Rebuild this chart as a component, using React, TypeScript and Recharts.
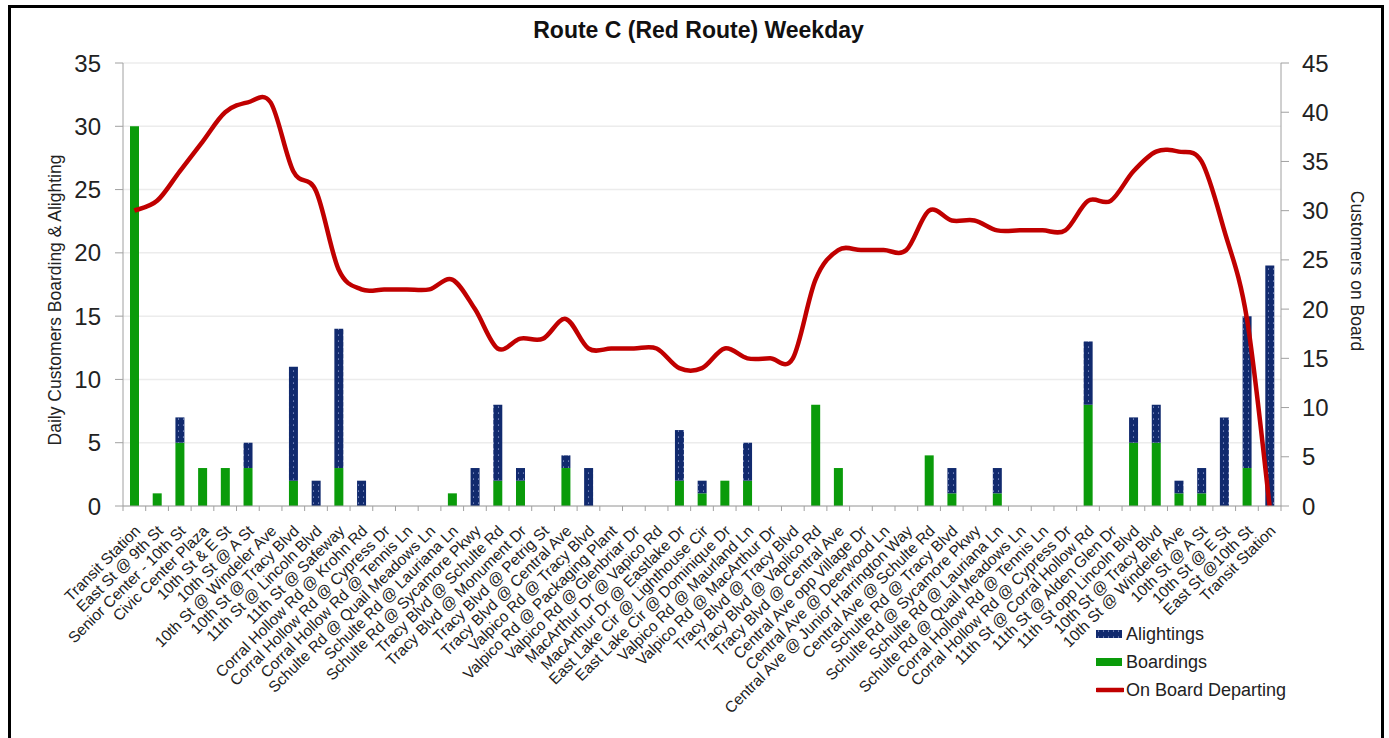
import { ComposedChart, Bar, Line, XAxis, YAxis, CartesianGrid, Legend } from "recharts";

const stops = [
  "Transit Station",
  "East St @ 9th St",
  "Senior Center - 10th St",
  "Civic Center Plaza",
  "10th St & E St",
  "10th St @ A St",
  "10th St @ Windeler Ave",
  "10th St @ Tracy Blvd",
  "11th St @ Lincoln Blvd",
  "11th St @ Safeway",
  "Corral Hollow Rd @ Krohn Rd",
  "Corral Hollow Rd @ Cypress Dr",
  "Corral Hollow Rd @ Tennis Ln",
  "Schulte Rd @ Quail Meadows Ln",
  "Schulte Rd @ Lauriana Ln",
  "Schulte Rd @ Sycamore Pkwy",
  "Tracy Blvd @ Schulte Rd",
  "Tracy Blvd @ Monument Dr",
  "Tracy Blvd @ Petrig St",
  "Tracy Blvd @ Central Ave",
  "Valpico Rd @ Tracy Blvd",
  "Valpico Rd @ Packaging Plant",
  "Valpico Rd @ Glenbriar Dr",
  "MacArthur Dr @ Vapico Rd",
  "MacArthur Dr @ Eastlake Dr",
  "East Lake Cir @ Lighthouse Cir",
  "East Lake Cir @ Dominique Dr",
  "Valpico Rd @ Maurland Ln",
  "Valpico Rd @ MacArthur Dr",
  "Tracy Blvd @ Tracy Blvd",
  "Tracy Blvd @ Vaplico Rd",
  "Tracy Blvd @ Central Ave",
  "Central Ave opp Village Dr",
  "Central Ave @ Deerwood Ln",
  "Central Ave @ Junior Harrington Way",
  "Central Ave @ Schulte Rd",
  "Schulte Rd @ Tracy Blvd",
  "Schulte Rd @ Sycamore Pkwy",
  "Schulte Rd @ Lauriana Ln",
  "Schulte Rd @ Quail Meadows Ln",
  "Corral Hollow Rd @ Tennis Ln",
  "Corral Hollow Rd @ Cypress Dr",
  "11th St @ Corral Hollow Rd",
  "11th St @ Alden Glen Dr",
  "11th St opp Lincoln Blvd",
  "10th St @ Tracy Blvd",
  "10th St @ Windeler Ave",
  "10th St @ A St",
  "10th St @ E St",
  "East St @10th St",
  "Transit Station",
];

const boardings = [
  30, 1, 5, 3, 3, 3, 0, 2, 0, 3, 0, 0, 0, 0, 1, 0, 2, 2, 0, 3, 0, 0, 0, 0, 2, 1,
  2, 2, 0, 0, 8, 3, 0, 0, 0, 4, 1, 0, 1, 0, 0, 0, 8, 0, 5, 5, 1, 1, 0, 3, 0,
];

const alightings = [
  0, 0, 2, 0, 0, 2, 0, 9, 2, 11, 2, 0, 0, 0, 0, 3, 6, 1, 0, 1, 3, 0, 0, 0, 4, 1,
  0, 3, 0, 0, 0, 0, 0, 0, 0, 0, 2, 0, 2, 0, 0, 0, 5, 0, 2, 3, 1, 2, 7, 12, 19,
];

const onBoard = [
  30, 31, 34, 37, 40, 41, 41, 34, 32, 24, 22, 22, 22, 22, 23, 20, 16, 17, 17, 19,
  16, 16, 16, 16, 14, 14, 16, 15, 15, 15, 23, 26, 26, 26, 26, 30, 29, 29, 28, 28,
  28, 28, 31, 31, 34, 36, 36, 35, 28, 19, 0,
];

const leftTicks = [0, 5, 10, 15, 20, 25, 30, 35];
const rightTicks = [0, 5, 10, 15, 20, 25, 30, 35, 40, 45];

const data = stops.map((stop, i) => ({
  stop,
  boardings: boardings[i],
  alightings: alightings[i],
  onBoard: onBoard[i],
}));

const FONT = "'Liberation Sans', Arial, sans-serif";
const GREEN = "#0A9B0A";
const NAVY = "#112A6E";
const RED = "#C00000";
const AXIS = "#A0A0A0";

const CHART_W = 1370;
const CHART_H = 730;
const PLOT_W = 1158;
const BAND = PLOT_W / stops.length;

// Excel-style smoothed line (Catmull-Rom through the points)
const excelSmooth = (context: any) => {
  let xs: number[] = [];
  let ys: number[] = [];
  return {
    areaStart() {},
    areaEnd() {},
    lineStart() {
      xs = [];
      ys = [];
    },
    point(x: number, y: number) {
      xs.push(+x);
      ys.push(+y);
    },
    lineEnd() {
      const n = xs.length;
      if (!n) return;
      context.moveTo(xs[0], ys[0]);
      for (let i = 0; i < n - 1; i++) {
        const a = Math.max(i - 1, 0);
        const d = Math.min(i + 2, n - 1);
        const c1x = xs[i] + (xs[i + 1] - xs[a]) / 6;
        const c1y = ys[i] + (ys[i + 1] - ys[a]) / 6;
        const c2x = xs[i + 1] - (xs[d] - xs[i]) / 6;
        const c2y = ys[i + 1] - (ys[d] - ys[i]) / 6;
        context.bezierCurveTo(c1x, c1y, c2x, c2y, xs[i + 1], ys[i + 1]);
      }
    },
  };
};

const StopTick = (props: any) => {
  const { x, y, payload, index } = props;
  const lx = x + 3;
  const ly = y + 22;
  return (
    <g>
      <line x1={x - BAND / 2} y1={y} x2={x - BAND / 2} y2={y + 5} stroke={AXIS} />
      {index === stops.length - 1 && (
        <line x1={x + BAND / 2} y1={y} x2={x + BAND / 2} y2={y + 5} stroke={AXIS} />
      )}
      <text
        x={lx}
        y={ly}
        transform={`rotate(-45 ${lx} ${ly})`}
        textAnchor="end"
        dominantBaseline="central"
        fontSize={15.5}
        fontFamily={FONT}
        fill="#222"
      >
        {payload.value}
      </text>
    </g>
  );
};

const LegendBox = () => {
  const rows = [
    { label: "Alightings", kind: "navy" },
    { label: "Boardings", kind: "green" },
    { label: "On Board Departing", kind: "line" },
  ];
  return (
    <div style={{ fontFamily: FONT, fontSize: 18, color: "#222" }}>
      {rows.map((r) => (
        <div key={r.label} style={{ display: "flex", alignItems: "center", height: 28 }}>
          <svg width={28} height={12} style={{ marginRight: 2 }}>
            {r.kind === "line" ? (
              <line x1={1} y1={6} x2={27} y2={6} stroke={RED} strokeWidth={4.5} strokeLinecap="round" />
            ) : (
              <rect x={0} y={2} width={26} height={8} fill={r.kind === "navy" ? "url(#navyDots)" : GREEN} />
            )}
          </svg>
          <span>{r.label}</span>
        </div>
      ))}
    </div>
  );
};

export default function App() {
  return (
    <div
      style={{
        position: "fixed",
        left: 8,
        top: 5,
        width: 1370,
        height: 740,
        border: "3px solid #000",
        borderBottom: "none",
        background: "#fff",
        fontFamily: FONT,
      }}
    >
      <div
        style={{
          position: "absolute",
          left: 5,
          right: 0,
          top: 9,
          textAlign: "center",
          fontWeight: "bold",
          fontSize: 23,
          color: "#111",
        }}
      >
        Route C (Red Route) Weekday
      </div>
      <ComposedChart
        width={CHART_W}
        height={CHART_H}
        data={data}
        margin={{ top: 55, right: 40, bottom: 0, left: 42 }}
        barCategoryGap={0}
      >
        <defs>
          <pattern id="navyDots" width={5} height={6} patternUnits="userSpaceOnUse">
            <rect width={5} height={6} fill={NAVY} />
            <circle cx={2.5} cy={3} r={0.55} fill="#cfd8ff" />
          </pattern>
        </defs>
        <CartesianGrid yAxisId="left" vertical={false} stroke="#ECECEC" strokeWidth={1.5} />
        <XAxis
          dataKey="stop"
          interval={0}
          height={232}
          tick={<StopTick />}
          tickLine={false}
          tickSize={0}
          tickMargin={0}
          stroke={AXIS}
        />
        <YAxis
          yAxisId="left"
          width={70}
          domain={[0, 35]}
          ticks={leftTicks}
          tickSize={8}
          tickMargin={14}
          stroke={AXIS}
          tick={{ fontSize: 24, fill: "#222", fontFamily: FONT }}
          label={{
            content: () => (
              <text
                x={44}
                y={292}
                transform="rotate(-90 44 292)"
                textAnchor="middle"
                dominantBaseline="central"
                fontSize={17.5}
                fontFamily={FONT}
                fill="#222"
              >
                Daily Customers  Boarding &amp; Alighting
              </text>
            ),
          }}
        />
        <YAxis
          yAxisId="right"
          orientation="right"
          width={60}
          domain={[0, 45]}
          ticks={rightTicks}
          tickSize={8}
          tickMargin={13}
          stroke={AXIS}
          tick={{ fontSize: 24, fill: "#222", fontFamily: FONT, textAnchor: "start" }}
          label={{
            content: () => (
              <text
                x={1346}
                y={263}
                transform="rotate(90 1346 263)"
                textAnchor="middle"
                dominantBaseline="central"
                fontSize={17.5}
                fontFamily={FONT}
                fill="#222"
              >
                Customers on Board
              </text>
            ),
          }}
        />
        <Legend
          layout="vertical"
          align="center"
          verticalAlign="middle"
          wrapperStyle={{ left: 1085, top: 612, width: 260 }}
          content={<LegendBox />}
        />
        <Bar
          yAxisId="left"
          dataKey="boardings"
          name="Boardings"
          stackId="a"
          fill={GREEN}
          barSize={9}
          isAnimationActive={false}
        />
        <Bar
          yAxisId="left"
          dataKey="alightings"
          name="Alightings"
          stackId="a"
          fill="url(#navyDots)"
          barSize={9}
          isAnimationActive={false}
        />
        <Line
          yAxisId="right"
          dataKey="onBoard"
          name="On Board Departing"
          type={excelSmooth as any}
          stroke={RED}
          strokeWidth={4.5}
          dot={false}
          activeDot={false}
          isAnimationActive={false}
        />
      </ComposedChart>
    </div>
  );
}
